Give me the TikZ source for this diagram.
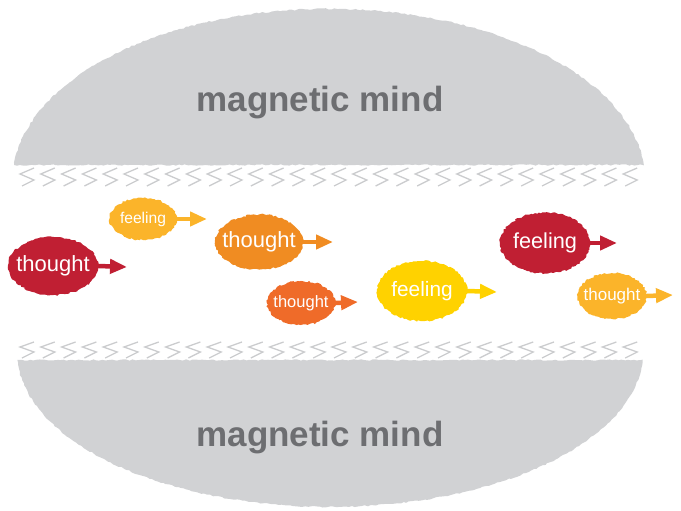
\documentclass[tikz,border=0pt]{standalone}
\usepackage{fontspec}
\setmainfont{Liberation Sans}
\usepackage{tikz}
\usetikzlibrary{arrows.meta,decorations.pathmorphing,shapes.geometric}
\definecolor{mindgray}{HTML}{D1D2D4}
\definecolor{mindtext}{HTML}{6D6E71}
\definecolor{zigzag}{HTML}{CBCCCE}
\definecolor{crimson}{HTML}{C01F33}
\definecolor{amber}{HTML}{FBB42A}
\definecolor{tangerine}{HTML}{F08C22}
\definecolor{flame}{HTML}{EF6B29}
\definecolor{sun}{HTML}{FFD200}
\tikzset{
    %Define standard arrow tip
    >={Triangle[length=17pt,width=14pt]},
    %Define style for the rough blobs
    blob/.style={
           ellipse,
           fill=#1,
           text=white,
           inner ysep=0pt,
           inner xsep=-20pt,
           decorate,
           decoration={random steps, segment length=2pt, amplitude=0.9pt},
           },
    % Define arrow style
    push/.style={
           ->,
           draw=#1,
           line width=4.5pt,
           shorten <=-3pt,},
    mind/.style={
           fill=mindgray,
           decorate,
           decoration={random steps, segment length=3pt, amplitude=0.7pt},
           },
    mindlabel/.style={
           anchor=base,
           font=\fontsize{35}{40}\selectfont\bfseries,
           text=mindtext,
           },
    chevron/.style={
           draw=zigzag,
           line width=1.3pt,
           },
}
\begin{document}
\begin{tikzpicture}[x=1pt,y=-1pt]
\useasboundingbox (0,0) rectangle (681,511);
% the two halves of the mind
\path[mind] (14.2,165) arc[start angle=185, end angle=355, x radius=316, y radius=171] -- cycle;
\path[mind] (17.4,360) arc[start angle=177, end angle=3, x radius=313, y radius=155] -- cycle;
\node[mindlabel](M1) at (320,112){magnetic mind};
\node[mindlabel](M2) at (320,446){magnetic mind};
% zigzag edges
\foreach \i in {0,...,29}{
  \draw[chevron] (34+20.8*\i,168) -- (20+20.8*\i,174) -- (34+20.8*\i,180) -- (22+20.8*\i,186);
  \draw[chevron] (34+20.8*\i,342) -- (20+20.8*\i,347) -- (34+20.8*\i,352) -- (22+20.8*\i,358);
}
% thoughts and feelings
\node[blob=crimson, minimum width=90pt, minimum height=58pt, font=\fontsize{22}{26}\selectfont](T1) at (53,266){thought};
\node[blob=amber, minimum width=67pt, minimum height=42pt, font=\fontsize{15.6}{19}\selectfont](F1) at (143,219){feeling};
\node[blob=tangerine, minimum width=88pt, minimum height=55pt, font=\fontsize{22}{26}\selectfont](T2) at (259,242){thought};
\node[blob=flame, minimum width=68pt, minimum height=44pt, font=\fontsize{16.5}{20}\selectfont](T3) at (301,303){thought};
\node[blob=sun, minimum width=90pt, minimum height=60pt, font=\fontsize{20.8}{25}\selectfont](F2) at (422,291){feeling};
\node[blob=crimson, minimum width=90pt, minimum height=61pt, font=\fontsize{21.7}{26}\selectfont](F3) at (545,243){feeling};
\node[blob=amber, minimum width=69pt, minimum height=46pt, font=\fontsize{17}{20}\selectfont](T4) at (612,296){thought};
\coordinate (t1) at (127,267);
\coordinate (f1) at (207,219);
\coordinate (t2) at (333,242);
\coordinate (t3) at (358,302);
\coordinate (f2) at (497,292);
\coordinate (f3) at (617,243);
\coordinate (t4) at (673,295);
\draw[push=crimson] (T1.east) -- (t1);
\draw[push=amber] (F1.east) -- (f1);
\draw[push=tangerine] (T2.east) -- (t2);
\draw[push=flame] (T3.east) -- (t3);
\draw[push=sun] (F2.east) -- (f2);
\draw[push=crimson] (F3.east) -- (f3);
\draw[push=amber] (T4.east) -- (t4);
\end{tikzpicture}
\end{document}
